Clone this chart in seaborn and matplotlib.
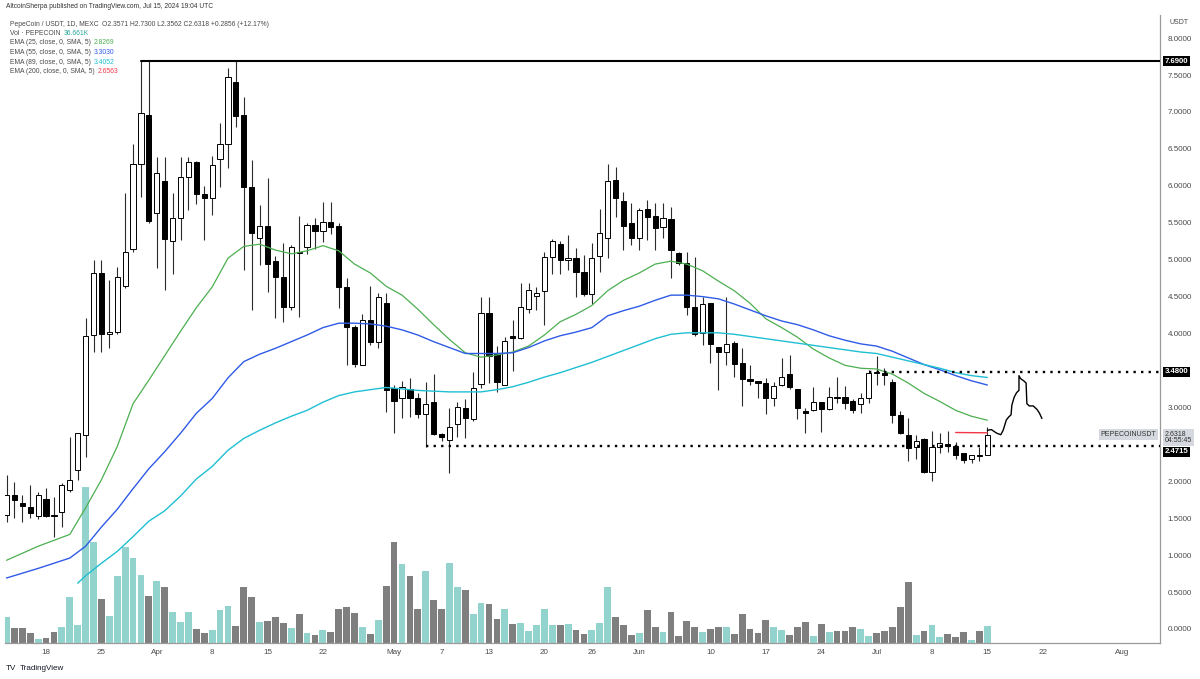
import matplotlib
matplotlib.use("Agg")
import matplotlib.pyplot as plt
import seaborn as sns

# daily candles, bar 0 = 2024-03-13 ... bar 124 = 2024-07-15
OPEN = [1.54, 1.81, 1.70, 1.65, 1.53, 1.76, 1.54, 1.58, 1.88, 2.15,
        2.62, 3.98, 4.82, 3.99, 4.02, 4.65, 5.14, 6.29, 6.96, 5.63,
        6.06, 5.25, 5.56, 6.12, 6.32, 5.89, 5.83, 6.36, 6.56, 7.40,
        6.96, 5.98, 5.30, 5.45, 4.98, 4.76, 4.36, 5.11, 5.17, 5.47,
        5.39, 5.51, 5.45, 4.63, 4.09, 3.57, 4.19, 3.88, 4.42, 3.26,
        3.13, 3.25, 3.13, 2.91, 3.07, 2.64, 2.56, 2.77, 2.99, 2.84,
        3.32, 4.28, 3.72, 3.30, 3.96, 3.94, 4.33, 4.51, 4.57, 5.04,
        5.21, 4.99, 5.02, 4.83, 4.53, 5.05, 5.30, 6.08, 5.79, 5.49,
        5.29, 5.68, 5.59, 5.44, 5.55, 5.09, 4.95, 4.36, 4.01, 4.41,
        3.82, 3.75, 3.87, 3.60, 3.38, 3.36, 3.33, 3.13, 3.30, 3.45,
        3.25, 2.95, 2.96, 3.07, 2.98, 3.14, 3.14, 3.09, 3.04, 3.13,
        3.47, 3.46, 3.34, 2.90, 2.63, 2.46, 2.57, 2.12, 2.46, 2.50,
        2.48, 2.38, 2.30, 2.36, 2.3571]
HIGH = [2.08, 1.99, 1.81, 1.95, 1.85, 1.91, 1.79, 1.97, 2.60, 2.66,
        4.21, 4.99, 4.99, 4.72, 4.90, 5.90, 6.56, 7.69, 7.69, 6.39,
        6.39, 5.90, 6.39, 6.39, 6.34, 6.00, 6.41, 6.85, 7.60, 7.69,
        7.20, 6.35, 5.74, 6.10, 5.05, 5.22, 5.20, 5.59, 5.50, 5.57,
        5.78, 5.78, 5.50, 4.75, 4.11, 4.27, 4.65, 4.55, 4.55, 3.30,
        3.36, 3.40, 3.20, 3.35, 3.45, 2.66, 2.99, 3.07, 3.12, 3.48,
        4.49, 4.49, 3.83, 3.95, 4.19, 4.68, 4.68, 4.63, 5.10, 5.28,
        5.25, 5.33, 5.16, 5.07, 5.22, 5.68, 6.30, 6.26, 5.92, 5.77,
        5.70, 5.81, 5.77, 5.77, 5.72, 5.11, 5.11, 5.04, 4.50, 4.41,
        3.82, 4.49, 3.90, 3.81, 3.57, 3.36, 3.40, 3.34, 3.67, 3.71,
        3.25, 2.99, 3.27, 3.07, 3.27, 3.41, 3.29, 3.12, 3.19, 3.50,
        3.69, 3.53, 3.38, 2.95, 2.85, 2.62, 2.58, 2.68, 2.65, 2.68,
        2.53, 2.38, 2.35, 2.46, 2.7300]
LOW = [1.45, 1.50, 1.45, 1.50, 1.49, 1.52, 1.24, 1.38, 1.86, 2.02,
       2.33, 3.75, 3.75, 3.80, 4.00, 4.61, 5.10, 5.85, 5.50, 4.89,
       4.59, 4.80, 5.26, 5.67, 5.76, 5.27, 5.60, 5.98, 6.24, 6.79,
       4.86, 4.32, 4.93, 4.56, 4.21, 4.15, 4.32, 4.22, 5.08, 5.15,
       5.24, 5.35, 4.34, 3.57, 3.55, 3.57, 3.85, 3.80, 2.94, 2.65,
       2.85, 2.87, 2.85, 2.47, 2.62, 2.55, 2.11, 2.60, 2.58, 2.82,
       3.26, 3.33, 3.21, 3.30, 3.49, 3.93, 4.28, 4.32, 4.11, 4.80,
       4.81, 4.86, 4.49, 4.51, 4.40, 4.83, 5.02, 5.58, 5.13, 5.20,
       5.13, 5.27, 5.13, 5.29, 4.75, 4.93, 4.25, 3.97, 3.84, 3.60,
       3.24, 3.57, 3.41, 3.02, 3.30, 3.13, 2.91, 3.02, 3.29, 3.25,
       2.84, 2.66, 2.95, 2.67, 2.97, 3.06, 2.98, 2.93, 2.92, 3.06,
       3.30, 3.30, 2.79, 2.64, 2.27, 2.30, 2.11, 2.00, 2.38, 2.40,
       2.30, 2.25, 2.25, 2.27, 2.3562]
CLOSE = [1.81, 1.75, 1.66, 1.57, 1.81, 1.53, 1.53, 1.95, 2.02, 2.65,
         3.96, 4.82, 3.99, 4.02, 4.76, 5.10, 6.29, 6.98, 5.53, 6.17,
         5.28, 5.56, 6.12, 6.32, 5.89, 5.83, 6.28, 6.56, 7.48, 6.94,
         5.98, 5.36, 5.45, 4.94, 4.76, 4.36, 5.17, 5.09, 5.47, 5.39,
         5.51, 5.44, 4.63, 4.09, 3.59, 4.19, 3.88, 4.49, 3.23, 3.09,
         3.27, 3.13, 2.91, 3.04, 2.64, 2.60, 2.73, 3.00, 2.86, 3.26,
         4.28, 3.69, 3.34, 3.90, 3.94, 4.36, 4.59, 4.55, 5.04, 5.25,
         4.99, 5.02, 4.83, 4.53, 5.02, 5.36, 6.06, 5.83, 5.45, 5.30,
         5.67, 5.58, 5.43, 5.56, 5.13, 4.95, 4.36, 3.99, 4.40, 3.86,
         3.75, 3.86, 3.59, 3.38, 3.36, 3.33, 3.13, 3.29, 3.41, 3.27,
         2.99, 2.92, 3.07, 2.98, 3.14, 3.13, 3.06, 2.96, 3.13, 3.46,
         3.46, 3.44, 2.90, 2.65, 2.45, 2.54, 2.12, 2.46, 2.52, 2.48,
         2.35, 2.29, 2.35, 2.34, 2.6318]
VOLUME_K = [56, 32, 32, 22, 9, 11, 24, 35, 99, 39,
            336, 218, 95, 58, 145, 207, 183, 147, 101, 134,
            121, 67, 45, 67, 30, 22, 28, 71, 80, 37,
            121, 99, 45, 47, 56, 43, 32, 63, 22, 17,
            28, 24, 73, 78, 65, 35, 19, 50, 123, 218,
            170, 145, 73, 155, 93, 73, 173, 121, 114, 63,
            86, 84, 52, 73, 41, 43, 26, 39, 73, 39,
            39, 41, 28, 19, 28, 43, 121, 56, 39, 17,
            22, 71, 35, 24, 67, 15, 47, 35, 24, 30,
            35, 35, 19, 63, 30, 22, 50, 35, 28, 17,
            35, 45, 15, 41, 24, 26, 26, 35, 30, 15,
            22, 26, 35, 78, 132, 17, 26, 39, 13, 19,
            13, 24, 6, 26, 36.661]

EMA25_DAY = [0, 4, 8, 10, 12, 14, 16, 18, 20, 22, 24, 26, 28, 30, 32, 34, 36, 38, 40, 42,
             44, 46, 48, 50, 52, 54, 56, 58, 60, 62, 64, 66, 68, 70, 72, 74, 76, 78, 80, 82,
             84, 86, 88, 90, 92, 94, 96, 98, 100, 102, 104, 106, 108, 110, 112, 114, 116, 118,
             120, 122, 124]
EMA25_VAL = [0.93, 1.12, 1.28, 1.64, 2.02, 2.47, 3.05, 3.37, 3.70, 4.03, 4.35, 4.63, 5.02, 5.18,
             5.21, 5.13, 5.08, 5.12, 5.19, 5.12, 4.94, 4.82, 4.64, 4.52, 4.33, 4.12, 3.92, 3.74,
             3.68, 3.71, 3.75, 3.83, 3.98, 4.16, 4.26, 4.38, 4.58, 4.72, 4.82, 4.94, 4.98, 4.94,
             4.85, 4.71, 4.58, 4.41, 4.20, 4.08, 3.95, 3.79, 3.67, 3.57, 3.53, 3.52, 3.45, 3.33,
             3.19, 3.08, 2.96, 2.88, 2.8269]
EMA55_DAY = EMA25_DAY
EMA55_VAL = [0.69, 0.82, 0.96, 1.12, 1.38, 1.62, 1.90, 2.17, 2.40, 2.65, 2.92, 3.12, 3.40, 3.62,
             3.72, 3.80, 3.89, 3.98, 4.08, 4.14, 4.14, 4.13, 4.10, 4.05, 3.98, 3.89, 3.81, 3.73,
             3.73, 3.73, 3.74, 3.81, 3.90, 3.97, 4.02, 4.08, 4.24, 4.31, 4.37, 4.45, 4.52, 4.52,
             4.50, 4.47, 4.40, 4.32, 4.24, 4.17, 4.12, 4.05, 3.97, 3.91, 3.86, 3.83, 3.76, 3.67,
             3.58, 3.51, 3.43, 3.36, 3.3030]
EMA89_DAY = [9, 10, 12, 14, 16, 18, 20, 22, 24, 26, 28, 30, 32, 34, 36, 38, 40, 42,
             44, 46, 48, 50, 52, 54, 56, 58, 60, 62, 64, 66, 68, 70, 72, 74, 76, 78, 80, 82,
             84, 86, 88, 90, 92, 94, 96, 98, 100, 102, 104, 106, 108, 110, 112, 114, 116, 118,
             120, 122, 124]
EMA89_VAL = [0.62, 0.72, 0.89, 1.05, 1.25, 1.46, 1.60, 1.80, 2.03, 2.20, 2.42, 2.58, 2.69, 2.79,
             2.88, 2.96, 3.07, 3.16, 3.21, 3.24, 3.27, 3.25, 3.23, 3.22, 3.21, 3.21, 3.21, 3.24,
             3.28, 3.34, 3.41, 3.47, 3.54, 3.61, 3.69, 3.77, 3.85, 3.93, 3.99, 4.01, 4.01, 4.01,
             3.99, 3.96, 3.93, 3.90, 3.87, 3.84, 3.81, 3.78, 3.75, 3.73, 3.68, 3.63, 3.58, 3.53,
             3.47, 3.43, 3.4052]
EMA200_DAY = [120, 121, 122, 123, 124]
EMA200_VAL = [2.660, 2.659, 2.658, 2.657, 2.6563]

# hand drawn projection
PATH_DAY = [124.0, 124.5, 125.2, 125.7, 126.0, 126.4, 126.7, 127.0, 127.1, 127.4, 127.7,
            128.0, 128.0, 128.2, 128.6, 128.9, 129.0, 129.3, 129.8, 130.3, 130.6, 130.9]
PATH_PRICE = [2.69, 2.70, 2.65, 2.63, 2.69, 2.83, 2.87, 2.90, 3.03, 3.14, 3.20,
              3.23, 3.43, 3.39, 3.36, 3.33, 3.05, 3.02, 3.02, 2.97, 2.92, 2.85]

TOP_LEVEL, TOP_FROM = 7.69, 17
RES_LEVEL, RES_FROM = 3.48, 109
SUP_LEVEL, SUP_FROM = 2.4715, 53

TICK_POS = [5, 12, 19, 26, 33, 40, 49, 55, 61, 68, 74, 80, 89, 96, 103, 110, 117, 124, 131, 141]
TICK_LAB = ["18", "25", "Apr", "8", "15", "22", "May", "7", "13", "20", "26", "Jun",
            "10", "17", "24", "Jul", "8", "15", "22", "Aug"]
PRICE_TICKS = [0, 0.5, 1, 1.5, 2, 3, 4, 4.5, 5, 5.5, 6, 6.5, 7, 7.5, 8]

W, H = 1200, 679
AX_L, AX_R, AX_T, AX_B = 5, 1160, 15, 643
X_MIN, X_MAX = -0.19, 145.83
Y_MIN, Y_MAX = -0.19, 8.313
VOL_MAX = 1355

UP_VOL, DOWN_VOL = "#92d3cd", "#7f7f7f"
C25, C55, C89, C200 = "#4caf50", "#2f5be6", "#1fbfd3", "#f23645"
TXT = "#4a4a4a"

sns.set_theme(style="white")
plt.rcParams["font.family"] = ["Liberation Sans", "DejaVu Sans"]

fig = plt.figure(figsize=(W / 100, H / 100), dpi=100, facecolor="white")
rect = [AX_L / W, 1 - AX_B / H, (AX_R - AX_L) / W, (AX_B - AX_T) / H]
ax_vol = fig.add_axes(rect)
ax = fig.add_axes(rect)
ax.patch.set_alpha(0)

idx = list(range(len(OPEN)))
up = [c >= o for o, c in zip(OPEN, CLOSE)]

# volume pane
ax_vol.bar(idx, VOLUME_K, width=0.86, color=[UP_VOL if u else DOWN_VOL for u in up], linewidth=0)
ax_vol.set_xlim(X_MIN, X_MAX)
ax_vol.set_ylim(0, VOL_MAX)
ax_vol.axis("off")

# candles
ax.vlines(idx, LOW, HIGH, color="#2b2b2b", linewidth=0.8, zorder=2)
bottoms = [min(o, c) for o, c in zip(OPEN, CLOSE)]
heights = [max(abs(c - o), 0.015) for o, c in zip(OPEN, CLOSE)]
ax.bar(idx, heights, bottom=bottoms, width=0.66,
       color=["white" if u else "black" for u in up],
       edgecolor="black", linewidth=0.7, zorder=3)

# EMAs
sns.lineplot(x=EMA25_DAY, y=EMA25_VAL, ax=ax, color=C25, linewidth=0.9, zorder=4)
sns.lineplot(x=EMA55_DAY, y=EMA55_VAL, ax=ax, color=C55, linewidth=1.0, zorder=4)
sns.lineplot(x=EMA89_DAY, y=EMA89_VAL, ax=ax, color=C89, linewidth=1.0, zorder=4)
sns.lineplot(x=EMA200_DAY, y=EMA200_VAL, ax=ax, color=C200, linewidth=1.0, zorder=4)

# levels and drawing
ax.plot([TOP_FROM, X_MAX], [TOP_LEVEL, TOP_LEVEL], color="black", linewidth=1.5, zorder=5)
ax.plot([RES_FROM, X_MAX], [RES_LEVEL, RES_LEVEL], color="black", linewidth=1.7,
        linestyle=(0, (1, 2.2)), zorder=5)
ax.plot([SUP_FROM, X_MAX], [SUP_LEVEL, SUP_LEVEL], color="black", linewidth=1.7,
        linestyle=(0, (1, 2.2)), zorder=5)
ax.plot(PATH_DAY, PATH_PRICE, color="black", linewidth=1.0, zorder=5)

ax.set_xlim(X_MIN, X_MAX)
ax.set_ylim(Y_MIN, Y_MAX)
ax.set_xlabel("")
ax.set_ylabel("")
ax.set_xticks(TICK_POS)
ax.set_xticklabels(TICK_LAB)
ax.yaxis.tick_right()
ax.set_yticks(PRICE_TICKS)
ax.set_yticklabels([f"{v:.4f}" for v in PRICE_TICKS])
ax.tick_params(axis="y", length=0, pad=5.5, labelsize=5.8, labelcolor=TXT)
ax.tick_params(axis="x", length=0, pad=4, labelsize=5.8, labelcolor=TXT)
for side in ["top", "left"]:
    ax.spines[side].set_visible(False)
for side in ["right", "bottom"]:
    ax.spines[side].set_color("#9a9a9a")
    ax.spines[side].set_linewidth(0.9)
ax.grid(False)

# price-scale labels
ytr = ax.get_yaxis_transform()
box_kw = dict(boxstyle="square,pad=0.25", ec="none")
for lvl in [TOP_LEVEL, RES_LEVEL]:
    ax.text(1.004, lvl, f"{lvl:.4f}", transform=ytr, fontsize=5.6, color="white",
            weight="bold", va="center", ha="left", clip_on=False,
            bbox=dict(fc="black", **box_kw), zorder=10)
ax.text(1.004, SUP_LEVEL - 0.075, f"{SUP_LEVEL:.4f}", transform=ytr, fontsize=5.6,
        color="white", weight="bold", va="center", ha="left", clip_on=False,
        bbox=dict(fc="black", **box_kw), zorder=10)
ax.text(1.004, CLOSE[-1] - 0.04, f"{CLOSE[-1]:.4f}\n04:55:45", transform=ytr, fontsize=5,
        color="#333333", va="center", ha="left", clip_on=False, linespacing=0.95,
        bbox=dict(fc="#d6d8df", **box_kw), zorder=9)
ax.text(0.997, CLOSE[-1], "PEPECOINUSDT", transform=ytr, fontsize=5, color="#333333",
        va="center", ha="right", bbox=dict(fc="#d6d8df", **box_kw), zorder=9)
fig.text((AX_R + 10) / W, 1 - 22 / H, "USDT", fontsize=5, color=TXT, va="center")


def text_row(x_px, y_px, parts, size=4.9):
    renderer = fig.canvas.get_renderer()
    x = x_px
    for s, col in parts:
        t = fig.text(x / W, 1 - y_px / H, s, color=col, fontsize=size, va="center", ha="left")
        x += t.get_window_extent(renderer=renderer).width + 3


text_row(6, 7, [("AltcoinSherpa published on TradingView.com, Jul 15, 2024 19:04 UTC", "#333333")], 4.8)
text_row(10, 24, [("PepeCoin / USDT, 1D, MEXC", TXT),
                  (f"O{OPEN[-1]:.4f} H{HIGH[-1]:.4f} L{LOW[-1]:.4f} C{CLOSE[-1]:.4f} +0.2856 (+12.17%)", TXT)])
text_row(10, 33.5, [("Vol · PEPECOIN", TXT), (f"{VOLUME_K[-1]:.3f}K", "#26a69a")])
text_row(10, 43, [("EMA (25, close, 0, SMA, 5)", TXT), (f"{EMA25_VAL[-1]:.4f}", C25)])
text_row(10, 52.5, [("EMA (55, close, 0, SMA, 5)", TXT), (f"{EMA55_VAL[-1]:.4f}", C55)])
text_row(10, 62, [("EMA (89, close, 0, SMA, 5)", TXT), (f"{EMA89_VAL[-1]:.4f}", C89)])
text_row(10, 71.5, [("EMA (200, close, 0, SMA, 5)", TXT), (f"{EMA200_VAL[-1]:.4f}", C200)])
text_row(6, 668, [("TV", "#131722"), ("TradingView", "#131722")], 5.8)

fig.savefig("out.png", dpi=100, facecolor="white")
